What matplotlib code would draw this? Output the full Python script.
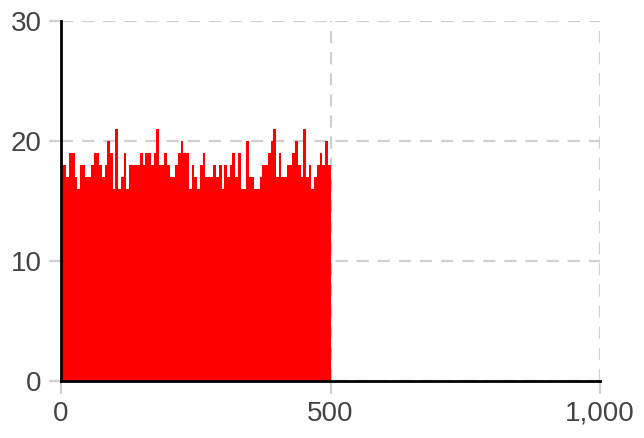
import numpy as np
import matplotlib.pyplot as plt

# histogram counts, bin width 5 over 0..500
counts = [18, 18, 17, 19, 19, 17, 16, 18, 18, 17, 17, 18, 19, 19, 18, 17,
          18, 20, 19, 16, 21, 16, 17, 19, 16, 18, 18, 18, 18, 19, 18,
          19, 19, 18, 19, 21, 18, 18, 19, 18, 17, 17, 18, 19, 20, 19, 19,
          16, 18, 17, 16, 18, 19, 17, 17, 17, 18, 17, 18, 16, 18, 17, 18, 19,
          17, 19, 16, 16, 20, 17, 17, 16, 16, 17, 18, 18, 19, 20, 21, 17, 19,
          17, 17, 18, 18, 19, 20, 18, 17, 21, 17, 18, 16, 17, 18, 19, 18, 20, 18]
counts = counts[:100]
edges = np.linspace(0, 500, len(counts) + 1)

xticks = [0, 500, 1000]
xtick_labels = ['0', '500', '1,000']
yticks = [0, 10, 20, 30]

plt.rcParams['font.family'] = ['Liberation Sans', 'DejaVu Sans']

fig = plt.figure(figsize=(6.44, 4.38), dpi=100)
ax = fig.add_axes([0.0947, 0.130, 0.837, 0.822])

ax.bar(edges[:-1], counts, width=np.diff(edges), align='edge',
       color='#ff0000', linewidth=0, zorder=2)

ax.set_xlim(0, 1000)
ax.set_ylim(0, 30)
ax.set_xticks(xticks)
ax.set_xticklabels(xtick_labels)
ax.set_yticks(yticks)

ax.grid(True, color='#d0d0d0', linestyle=(0, (5.5, 4)), linewidth=1.6, zorder=0)
ax.set_axisbelow(True)

for s in ['top', 'right']:
    ax.spines[s].set_visible(False)
for s in ['left', 'bottom']:
    ax.spines[s].set_color('black')
    ax.spines[s].set_linewidth(2)
    ax.spines[s].set_zorder(3)

ax.tick_params(axis='both', colors='#d0d0d0', labelcolor='#444444',
               labelsize=20, length=9, width=1.6, pad=5)

fig.savefig('out.png', dpi=100)
